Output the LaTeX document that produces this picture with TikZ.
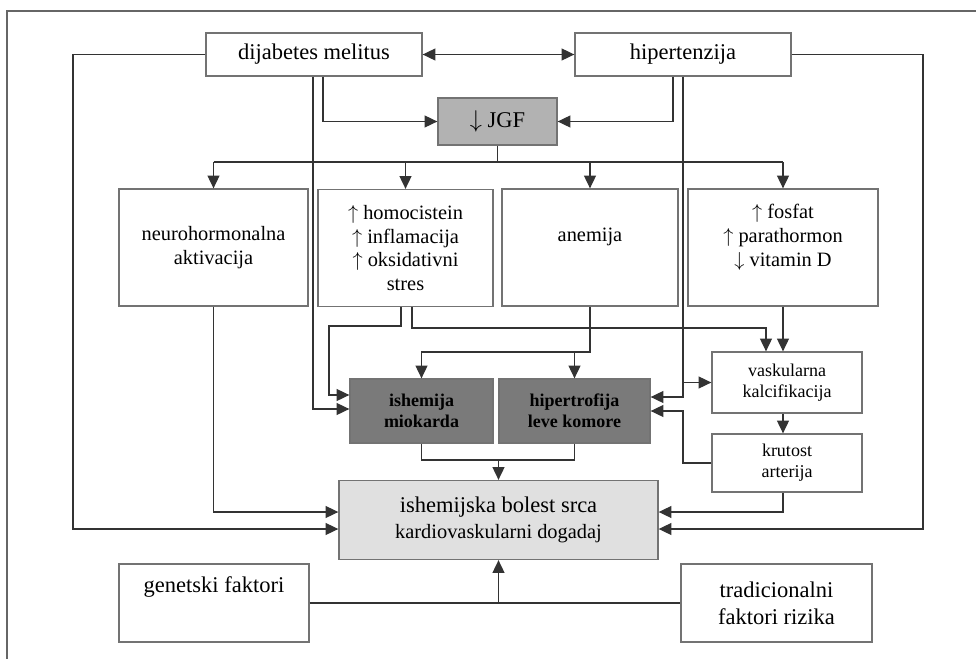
\documentclass[tikz,border=0pt]{standalone}
\usepackage{fontspec}
\setmainfont{Liberation Serif}
\usetikzlibrary{arrows.meta, calc}
\tikzstyle{box} = [rectangle, draw=black!55, line width=0.9pt, fill=white, inner sep=1pt, align=center]
\tikzstyle{darkbox} = [box, fill=black!52, font=\bfseries\fontsize{12.8}{15}\selectfont]
\tikzstyle{bigtext} = [font=\fontsize{16}{19}\selectfont]
\tikzstyle{midtext} = [font=\fontsize{14.5}{17}\selectfont]
\tikzstyle{smalltext} = [font=\fontsize{12.8}{15}\selectfont]
\tikzstyle{line} = [draw=black!80, line width=0.9pt]
\tikzstyle{arrow} = [line, ->]
\newcommand{\up}{$\uparrow$}
\newcommand{\down}{$\downarrow$}

\begin{document}
\begin{tikzpicture}[
			x = 0.025cm, y = -0.025cm,
			>= {Triangle[length=3.2mm, width=3mm]}]
			\useasboundingbox (0,0) rectangle (976,659);
			\draw[black!60, line width=0.9pt] (7,659) -- (7,11) -- (976,11);

			% boxes
			\node[box, bigtext, minimum width = 5.4cm, minimum height = 1.075cm] (dm) at (314,54.5) {dijabetes melitus};
			\node[box, bigtext, minimum width = 5.4cm, minimum height = 1.075cm] (ht) at (683,54.5) {hipertenzija};
			\node[box, bigtext, fill=black!30, minimum width = 2.975cm, minimum height = 1.175cm] (jgf) at (497.5,121.5) {\down\ JGF};
			\node[box, midtext, minimum width = 4.725cm, minimum height = 2.925cm] (neuro) at (213.5,247.5) {neurohormonalna\\aktivacija};
			\node[box, midtext, minimum width = 4.375cm, minimum height = 2.925cm] (homo) at (405.5,248) {\up\ homocistein\\\up\ inflamacija\\\up\ oksidativni\\stres};
			\node[box, minimum width = 4.4cm, minimum height = 2.925cm] (anem) at (590,247.5) {};
			\node[midtext] (anemtxt) at (590,237) {anemija};
			\node[box, minimum width = 4.75cm, minimum height = 2.925cm] (fosfat) at (783,247.5) {};
			\node[midtext, align=center] (fosfattxt) at (783,237) {\up\ fosfat\\\up\ parathormon\\\down\ vitamin D};
			\node[darkbox, minimum width = 3.575cm, minimum height = 1.6cm] (ism) at (421.5,411) {ishemija\\miokarda};
			\node[darkbox, minimum width = 3.775cm, minimum height = 1.6cm] (hlk) at (574.5,411) {hipertrofija\\leve komore};
			\node[box, smalltext, minimum width = 3.75cm, minimum height = 1.525cm] (vask) at (787,382.5) {vaskularna\\kalcifikacija};
			\node[box, smalltext, minimum width = 3.75cm, minimum height = 1.45cm] (krut) at (787,463) {krutost\\arterija};
			\node[box, fill=black!12, font=\fontsize{16}{18}\selectfont, minimum width = 7.975cm, minimum height = 1.975cm] (ibs) at (498.5,520) {ishemijska bolest srca\\{\fontsize{14.5}{17}\selectfont kardiovaskularni dogadaj}};
			\node[box, minimum width = 4.75cm, minimum height = 1.95cm] (gen) at (214,603) {};
			\node[bigtext] (gentxt) at (214,587) {genetski faktori};
			\node[box, bigtext, minimum width = 4.775cm, minimum height = 1.95cm] (trad) at (776.5,603) {tradicionalni\\faktori rizika};

			% turning points
			\coordinate (dmA) at (313,0);
			\coordinate (dmB) at (323,0);
			\coordinate (htA) at (673,0);
			\coordinate (bus) at (0,162);
			\coordinate (loopL) at (73,529);
			\coordinate (loopR) at (923,529);
			\coordinate (hoA) at (401,326);
			\coordinate (hoB) at (329,326);
			\coordinate (hoC) at (412,328);
			\coordinate (hoD) at (766,328);
			\coordinate (anJ) at (590,352);
			\coordinate (krJ) at (683,411);
			\coordinate (krL) at (783,512);
			\coordinate (mJ) at (0,460);

			% connectors
			\draw[arrow, <->] (dm) -- (ht);
			\draw[arrow] (dm.west) -| (loopL) -- (loopL -| ibs.west);
			\draw[arrow] (ht.east) -| (loopR) -- (loopR -| ibs.east);
			\draw[arrow] (dm.south -| dmB) |- (jgf.west);
			\draw[arrow] (ht.south -| htA) |- (jgf.east);
			\draw[line] (jgf.south) -- (jgf.south |- bus);
			\draw[line] (bus -| neuro.north) -- (bus -| fosfat.north);
			\draw[arrow] (bus -| neuro.north) -- (neuro.north);
			\draw[arrow] (bus -| homo.north) -- (homo.north);
			\draw[arrow] (bus -| anem.north) -- (anem.north);
			\draw[arrow] (bus -| fosfat.north) -- (fosfat.north);
			\draw[arrow] (dm.south -| dmA) |- ($(ism.west)+(0,-2)$);
			\draw[arrow] (homo.south -| hoA) -- (hoA) -- (hoB) |- ($(ism.west)+(0,-16)$);
			\draw[arrow] (homo.south -| hoC) -- (hoC) -- (hoD) -- (hoD |- vask.north);
			\draw[arrow] (anem.south) -- (anJ) -| (ism.north);
			\draw[arrow] (anJ -| hlk.north) -- (hlk.north);
			\draw[arrow] (fosfat.south) -- (fosfat.south |- vask.north);
			\draw[arrow] (vask.south -| fosfat.south) -- (krut.north -| fosfat.south);
			\draw[arrow] (ht.south) |- ($(hlk.east)+(0,-14)$);
			\draw[arrow] (ht.south |- vask.west) -- (vask.west);
			\draw[arrow] (krut.west) -| (krJ) -- (hlk.east);
			\draw[arrow] (krut.south -| krL) -- (krL) -- (krL -| ibs.east);
			\draw[arrow] (neuro.south) |- (krL -| ibs.west);
			\draw[line] (ism.south) |- (ibs.north |- mJ) -| (hlk.south);
			\draw[arrow] (ibs.north |- mJ) -- (ibs.north);
			\draw[line] (gen.east) -- (trad.west);
			\draw[arrow] (ibs.south |- gen.east) -- (ibs.south);
		\end{tikzpicture}
\end{document}
